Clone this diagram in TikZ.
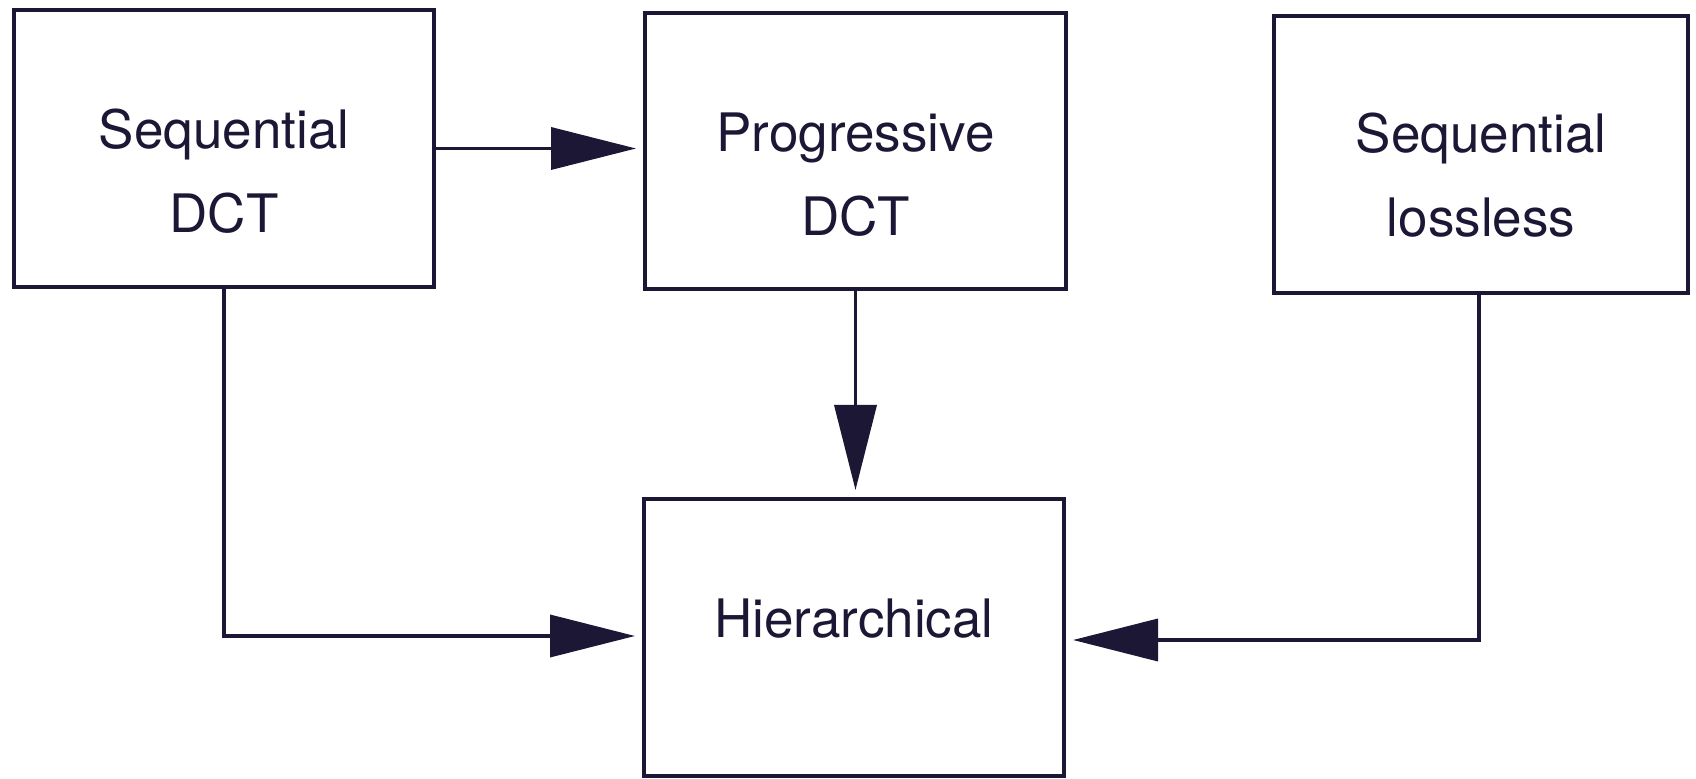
\documentclass[tikz,border=0pt]{standalone}
\usepackage{fontspec}
\setmainfont{TeX Gyre Heros}
\usetikzlibrary{arrows.meta}
\definecolor{ink}{HTML}{1D1736}
\begin{document}
\begin{tikzpicture}[x=0.5pt,y=-0.5pt,
  box/.style={draw=ink, line width=2.4pt, rectangle, outer sep=0pt, inner sep=0pt},
  caption/.style={anchor=base, align=center, text=ink, inner sep=0pt,
    font={\fontsize{26.5}{42}\selectfont}},
  twoline/.style={caption, yshift=-42pt},
  flow/.style={draw=ink, line width=1.8pt,
    -{Triangle[length=42.5pt,width=21pt]}, shorten >=4.5pt}]
  \useasboundingbox[fill=white] (0,0) rectangle (1696,779);

  % the four coding modes
  \node[box, minimum width=210pt, minimum height=138.5pt] (seq) at (224,148.5) {};
  \node[box, minimum width=210.5pt, minimum height=138pt] (prog) at (855.5,151) {};
  \node[box, minimum width=207pt, minimum height=138.5pt] (lossless) at (1481,154.5) {};
  \node[box, minimum width=210pt, minimum height=138.5pt] (hier) at (854,637.5) {};

  \node[twoline] (seqtext) at (seq.center) {Sequential\\DCT};
  \node[twoline] (progtext) at ([yshift=-0.5pt]prog.center) {Progressive\\DCT};
  \node[twoline] (losstext) at ([yshift=1pt]lossless.center) {Sequential\\lossless};
  \node[caption] (hiertext) at (hier.center) {Hierarchical};

  % connections between the modes
  \draw[flow] (seq.east) -- (seq.east -| prog.west);
  \draw[flow] (prog.south) -- (prog.south |- hier.north);
  \draw[flow] (seq.south) |- ([yshift=0.75pt]hier.west);
  \draw[flow] ([xshift=-1pt]lossless.south) |- ([yshift=-1.25pt]hier.east);
\end{tikzpicture}
\end{document}
